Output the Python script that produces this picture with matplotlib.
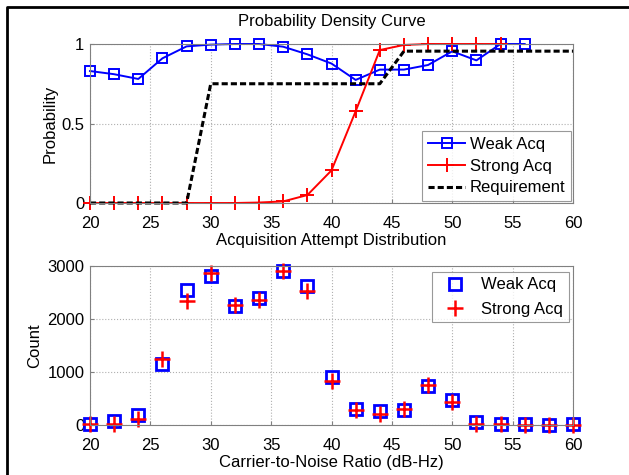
import matplotlib
matplotlib.use("Agg")
from matplotlib import pyplot as plt
from matplotlib.lines import Line2D

plt.rcParams['font.family'] = ['Liberation Sans', 'DejaVu Sans']

# acquisition probability vs C/N0
cn0_prob = [20, 22, 24, 26, 28, 30, 32, 34, 36, 38, 40, 42, 44, 46, 48, 50, 52, 54, 56]
weak_prob = [0.83, 0.81, 0.78, 0.91, 0.985, 0.996, 1.0, 1.0, 0.983, 0.935, 0.877,
             0.774, 0.839, 0.839, 0.868, 0.954, 0.897, 1.0, 1.0]
cn0_strong = [20, 22, 24, 26, 28, 30, 32, 34, 36, 38, 40, 42, 44, 46, 48, 50, 52, 54]
strong_prob = [0.0, 0.0, 0.0, 0.0, 0.0, 0.0, 0.0, 0.003, 0.01, 0.05, 0.205, 0.577,
               0.962, 0.994, 1.0, 1.0, 1.0, 1.0]
cn0_req = [20, 28, 30, 44, 46, 60]
req_prob = [0.0, 0.0, 0.75, 0.75, 0.955, 0.955]

# attempt counts per C/N0 bin
cn0_bins = [20, 22, 24, 26, 28, 30, 32, 34, 36, 38, 40, 42, 44, 46, 48, 50, 52, 54, 56, 58, 60]
weak_count = [10, 70, 180, 1160, 2540, 2805, 2250, 2390, 2900, 2625, 900, 307, 270,
              282, 745, 476, 63, 12, 19, 6, 12]
strong_count = [12, 25, 113, 1253, 2343, 2875, 2268, 2355, 2906, 2530, 827, 288, 213,
                300, 764, 426, 25, 12, 0, 0, 6]

W, H = 629, 475
fig = plt.figure(figsize=(W / 100, H / 100), dpi=100)

# frame around the figure (left and top edges)
fig.add_artist(Line2D([7 / W, 7 / W, 1], [0, (H - 7) / H, (H - 7) / H],
                      transform=fig.transFigure, color='black', lw=2))


def style_axes(ax):
    ax.set_xlim(20, 60)
    ax.set_xticks(range(20, 61, 5))
    ax.grid(True, linestyle=':', color='#b0b0b0', linewidth=0.8)
    ax.set_axisbelow(True)
    for s in ax.spines.values():
        s.set_color('#808080')
        s.set_linewidth(0.8)
    ax.tick_params(direction='in', length=3, color='#808080', labelsize=12,
                   labelcolor='black')
    ax.tick_params(axis='x', pad=9)
    ax.tick_params(axis='y', pad=4)


ax1 = fig.add_axes([90 / W, (H - 203) / H, 483 / W, 159 / H])
ax1.plot(cn0_prob, weak_prob, '-s', color='blue', lw=1.4, ms=7, mfc='none',
         mew=1.4, label='Weak Acq', clip_on=False)
ax1.plot(cn0_strong, strong_prob, '-+', color='red', lw=1.4, ms=10, mew=1.4,
         label='Strong Acq', clip_on=False)
ax1.plot(cn0_req, req_prob, '--', color='black', lw=2.2, dashes=(2, 1),
         label='Requirement', clip_on=False)
style_axes(ax1)
ax1.set_ylim(0, 1)
ax1.set_yticks([0, 0.5, 1])
ax1.set_yticklabels(['0', '0.5', '1'])
ax1.set_title('Probability Density Curve', fontsize=12, pad=13)
ax1.set_xlabel('Acquisition Attempt Distribution', fontsize=12, labelpad=2)
ax1.set_ylabel('Probability', fontsize=12, labelpad=3)
leg1 = ax1.legend(loc='lower right', bbox_to_anchor=(1.0, 0.0), fontsize=12,
                  frameon=True, fancybox=False, edgecolor='#808080',
                  borderpad=0.35, labelspacing=0.4, handlelength=2.2,
                  handletextpad=0.3, borderaxespad=0.1)
leg1.get_frame().set_linewidth(0.8)

ax2 = fig.add_axes([90 / W, (H - 425) / H, 483 / W, 159 / H])
ax2.plot(cn0_bins, weak_count, 's', color='blue', ms=8.5, mfc='none', mew=2,
         label='Weak Acq', clip_on=False)
ax2.plot(cn0_bins, strong_count, '+', color='red', ms=12, mew=1.8,
         label='Strong Acq', clip_on=False)
style_axes(ax2)
ax2.set_ylim(0, 3000)
ax2.set_yticks([0, 1000, 2000, 3000])
ax2.set_xlabel('Carrier-to-Noise Ratio (dB-Hz)', fontsize=12, labelpad=2)
ax2.set_ylabel('Count', fontsize=12, labelpad=4)
leg2 = ax2.legend(loc='upper right', bbox_to_anchor=(0.995, 0.975), fontsize=12,
                  frameon=True, fancybox=False, edgecolor='#808080',
                  borderpad=0.35, labelspacing=0.55, handlelength=2.0,
                  handletextpad=0.6, borderaxespad=0.1)
leg2.get_frame().set_linewidth(0.8)

fig.savefig('out.png', dpi=100)
